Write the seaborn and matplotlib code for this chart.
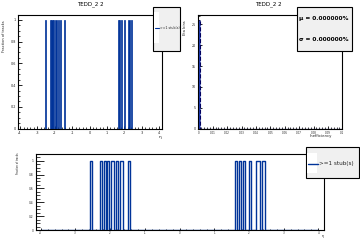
import numpy as np
import matplotlib
matplotlib.use("Agg")
import matplotlib.pyplot as plt
from matplotlib.patches import Rectangle
from matplotlib.lines import Line2D
from matplotlib.ticker import MultipleLocator, FormatStrFormatter
import seaborn as sns

# eta intervals where the fraction of tracks is 1
eta_lo = [-2.58, -2.29, -2.19, -2.09, -1.97, -1.84, -1.71, -1.48,
          1.61, 1.72, 1.83, 1.99, 2.20, 2.39]
eta_hi = [-2.52, -2.23, -2.13, -2.03, -1.90, -1.77, -1.64, -1.44,
          1.67, 1.77, 1.88, 2.05, 2.32, 2.45]
frac = [1, 1, 1, 1, 1, 1, 1, 1, 1, 1, 1, 1, 1, 1]

# inefficiency distribution: all eta bins at 0
ineff_val = [0.0]
ineff_count = [26]

title = "TEDD_2 2"
legend_label = ">=1 stub(s)"
mu_text = "μ = 0.000000%"
sigma_text = "σ = 0.000000%"

sns.set_theme(style="ticks")
plt.rcParams['font.family'] = ['DejaVu Sans']
plt.rcParams['axes.unicode_minus'] = False

BLUE = "#003399"
TXT = "#222222"
W, H = 360, 240


def box(x0, y0, x1, y1):
    # pixel box (origin top-left) -> figure fraction rect
    return [x0 / W, 1 - y1 / H, (x1 - x0) / W, (y1 - y0) / H]


def fxy(x, y):
    return x / W, 1 - y / H


def add_box(x0, y0, x1, y1, **kw):
    r = box(x0, y0, x1, y1)
    fig.add_artist(Rectangle(r[:2], r[2], r[3], transform=fig.transFigure, **kw))


def style_axis(ax, xmaj, xmin, ymaj, ymin, xlen, ylen, xfs, yfs, xpad, ypad):
    ax.xaxis.set_major_locator(MultipleLocator(xmaj))
    ax.xaxis.set_minor_locator(MultipleLocator(xmin))
    ax.yaxis.set_major_locator(MultipleLocator(ymaj))
    ax.yaxis.set_minor_locator(MultipleLocator(ymin))
    ax.xaxis.set_major_formatter(FormatStrFormatter('%g'))
    ax.yaxis.set_major_formatter(FormatStrFormatter('%g'))
    ax.tick_params(axis='x', which='major', direction='in', length=xlen, width=0.6,
                   labelsize=xfs, pad=xpad, colors='black', labelcolor=TXT)
    ax.tick_params(axis='x', which='minor', direction='in', length=xlen / 2, width=0.6)
    ax.tick_params(axis='y', which='major', direction='in', length=ylen, width=0.6,
                   labelsize=yfs, pad=ypad, colors='black', labelcolor=TXT)
    ax.tick_params(axis='y', which='minor', direction='in', length=ylen / 2, width=0.6)
    for s in ax.spines.values():
        s.set_linewidth(0.8)
        s.set_color('black')
        s.set_visible(True)
    ax.set_xlabel("")
    ax.set_ylabel("")


# bin edges / centres for the eta histograms
edges = [-4.0]
for lo, hi in zip(eta_lo, eta_hi):
    edges += [lo, hi]
edges.append(4.0)
centers = [(lo + hi) / 2 for lo, hi in zip(eta_lo, eta_hi)]

fig = plt.figure(figsize=(3.6, 2.4), dpi=100)
fig.patch.set_facecolor("white")

# ---- top left: filled eta histogram
ax1 = fig.add_axes(box(18.3, 14.7, 162, 128.7))
sns.histplot(x=centers, weights=frac, bins=edges, element="bars", fill=True,
             color=BLUE, alpha=1, linewidth=0.5, edgecolor=BLUE, ax=ax1)
ax1.set_xlim(-4.1, 4.17)
ax1.set_ylim(0, 1.046)
style_axis(ax1, 1, 0.2, 0.2, 0.05, 2.4, 3.1, 2.5, 2.4, 1.3, 1.6)

# ---- top right: inefficiency histogram
ax2 = fig.add_axes(box(198.3, 14.7, 342.3, 128.7))
ineff_bins = list(np.linspace(0, 0.1, 101))
sns.histplot(x=ineff_val, weights=ineff_count, bins=ineff_bins,
             element="bars", fill=True, color="#1f3fbf", alpha=1,
             edgecolor="#000060", linewidth=0.8, linestyle="--", ax=ax2)
ax2.set_xlim(0, 0.1)
ax2.set_ylim(0, 27.3)
style_axis(ax2, 0.01, 0.002, 5, 1, 2.4, 3.1, 2.0, 2.3, 1.3, 1.6)

# ---- bottom: outline eta histogram
ax3 = fig.add_axes(box(36, 153.7, 324, 230))
sns.histplot(x=centers, weights=frac, bins=edges, element="step", fill=False,
             color=BLUE, linewidth=1.0, ax=ax3)
ax3.set_xlim(-4.135, 4.163)
ax3.set_ylim(0, 1.1)
style_axis(ax3, 1, 0.2, 0.2, 0.05, 1.7, 6.0, 1.9, 2.1, 0.6, 2.0)

# ---- titles and axis titles
fig.text(*fxy(90, 4), title, ha="center", va="center", fontsize=4, color="black")
fig.text(*fxy(268, 4), title, ha="center", va="center", fontsize=4, color="black")
fig.text(*fxy(3.7, 20), "Fraction of tracks", rotation=90, ha="center", va="top",
         fontsize=2.6, color=TXT)
fig.text(*fxy(160, 136.7), "η", ha="center", va="center", fontsize=3.2, color=TXT)
fig.text(*fxy(185.3, 20), "Eta bins", rotation=90, ha="center", va="top",
         fontsize=2.6, color=TXT)
fig.text(*fxy(331.7, 135.5), "Inefficiency", ha="right", va="center", fontsize=2.8, color=TXT)
fig.text(*fxy(18, 153), "Fraction of tracks", rotation=90, ha="center", va="top",
         fontsize=1.8, color=TXT)
fig.text(*fxy(322.7, 235.5), "η", ha="center", va="center", fontsize=2.4, color=TXT)

# ---- legend top left
add_box(153.3, 7.3, 180, 50.7, facecolor="#f0f0f0", edgecolor="black", linewidth=0.8)
add_box(154.3, 11.7, 158.5, 43, facecolor="white", edgecolor="none")
x0, y0 = fxy(154.5, 28.3)
x1, _ = fxy(159, 28.3)
fig.add_artist(Line2D([x0, x1], [y0, y0], transform=fig.transFigure, color=BLUE, linewidth=0.8))
fig.text(*fxy(159.5, 28.3), legend_label, ha="left", va="center", fontsize=2.3, color=TXT)

# ---- stats box top right
add_box(297.3, 7.3, 351.7, 50.7, facecolor="#f0f0f0", edgecolor="black", linewidth=0.8)
fig.text(*fxy(299.3, 18.3), mu_text, ha="left", va="center", fontsize=4.2,
         fontweight="bold", color="black")
fig.text(*fxy(299.3, 39.3), sigma_text, ha="left", va="center", fontsize=4.2,
         fontweight="bold", color="black")

# ---- legend bottom
add_box(306, 147.3, 359, 177.7, facecolor="#f0f0f0", edgecolor="black", linewidth=0.8)
add_box(307.3, 153, 316.7, 173, facecolor="white", edgecolor="none")
x0, y0 = fxy(308, 164)
x1, _ = fxy(318, 164)
fig.add_artist(Line2D([x0, x1], [y0, y0], transform=fig.transFigure, color=BLUE, linewidth=1.0))
fig.text(*fxy(319.3, 164), legend_label, ha="left", va="center", fontsize=4.1, color=TXT)

fig.savefig("out.png", dpi=100)
